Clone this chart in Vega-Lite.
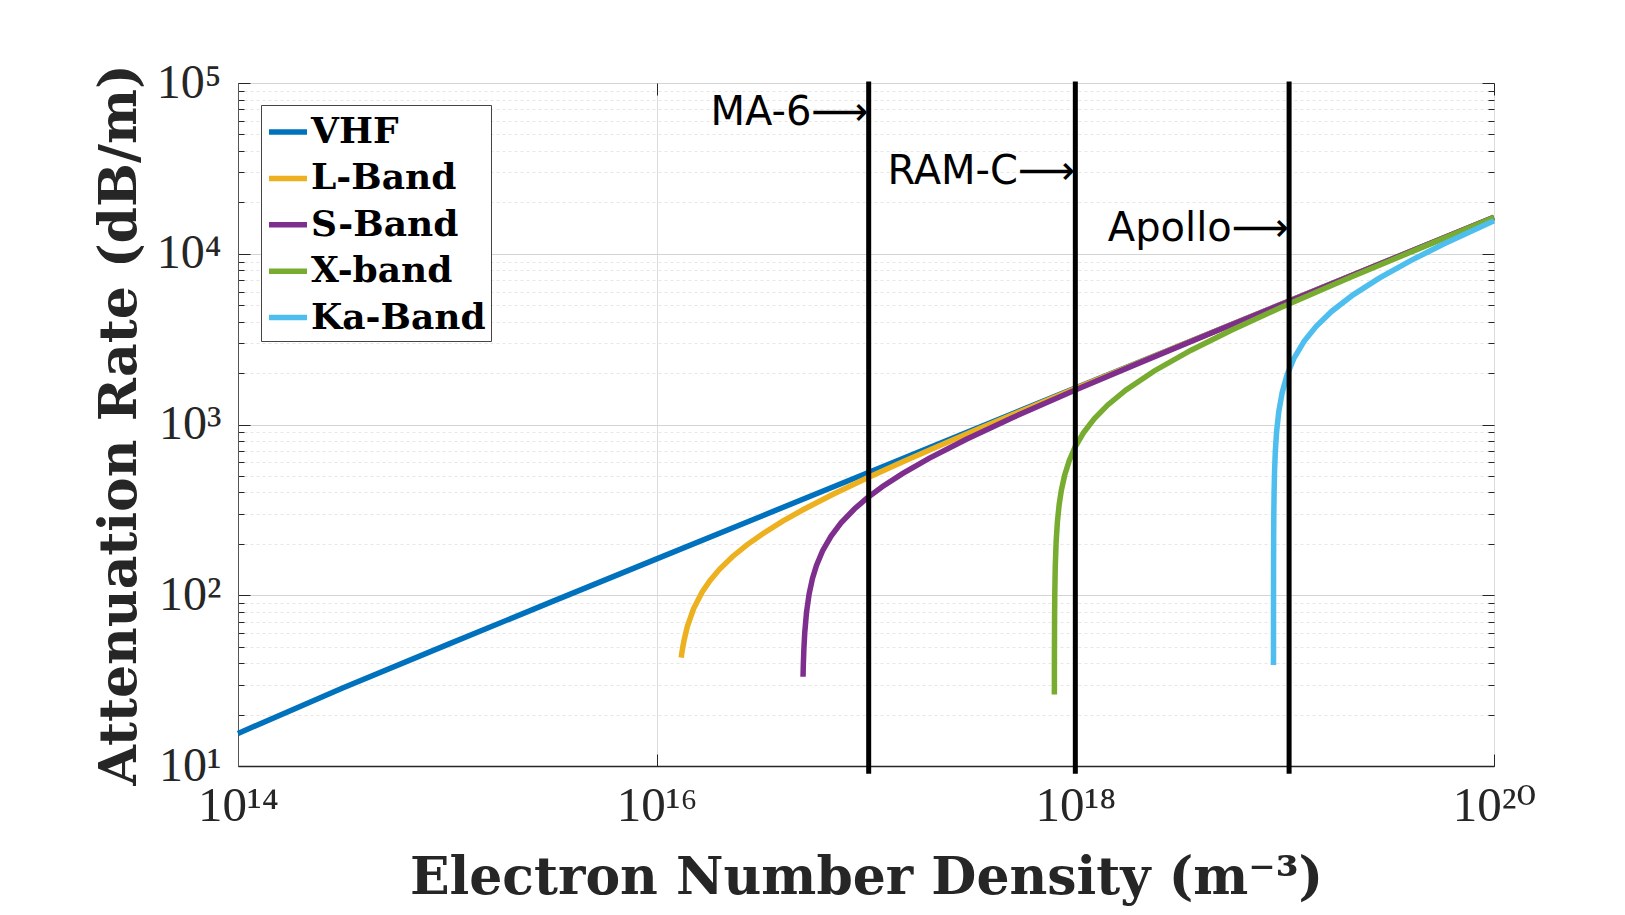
{
  "$schema": "https://vega.github.io/schema/vega-lite/v6.json",
  "width": 1256,
  "height": 683,
  "autosize": {"type": "none"},
  "padding": {"left": 238, "top": 83, "right": 131, "bottom": 149},
  "background": "white",
  "config": {"view": {"stroke": "#555555", "strokeWidth": 1}},
  "datasets": {
    "curves": [
      {"band": "VHF", "n": 1e14, "rate": 15.52},
      {"band": "VHF", "n": 3.162e14, "rate": 28.6},
      {"band": "VHF", "n": 1e15, "rate": 51.4},
      {"band": "VHF", "n": 3.162e15, "rate": 91.71},
      {"band": "VHF", "n": 1e16, "rate": 163.27},
      {"band": "VHF", "n": 3.162e16, "rate": 290.43},
      {"band": "VHF", "n": 1e17, "rate": 516.5},
      {"band": "VHF", "n": 3.162e17, "rate": 918.5},
      {"band": "VHF", "n": 1e18, "rate": 1633.5},
      {"band": "VHF", "n": 3.162e18, "rate": 2904.7},
      {"band": "VHF", "n": 1e19, "rate": 5165.4},
      {"band": "VHF", "n": 3.162e19, "rate": 9185.5},
      {"band": "VHF", "n": 1e20, "rate": 16334.6},

      {"band": "L-Band", "n": 1.31e16, "rate": 43.11},
      {"band": "L-Band", "n": 1.32e16, "rate": 46.1},
      {"band": "L-Band", "n": 1.33e16, "rate": 48.91},
      {"band": "L-Band", "n": 1.35e16, "rate": 54.09},
      {"band": "L-Band", "n": 1.4e16, "rate": 65.27},
      {"band": "L-Band", "n": 1.5e16, "rate": 83.24},
      {"band": "L-Band", "n": 1.65e16, "rate": 104.55},
      {"band": "L-Band", "n": 1.8e16, "rate": 122.2},
      {"band": "L-Band", "n": 2e16, "rate": 142.37},
      {"band": "L-Band", "n": 2.3e16, "rate": 168.15},
      {"band": "L-Band", "n": 2.7e16, "rate": 197.35},
      {"band": "L-Band", "n": 3.2e16, "rate": 228.66},
      {"band": "L-Band", "n": 4e16, "rate": 271.35},
      {"band": "L-Band", "n": 5e16, "rate": 316.72},
      {"band": "L-Band", "n": 7e16, "rate": 392.02},
      {"band": "L-Band", "n": 1e17, "rate": 483.45},
      {"band": "L-Band", "n": 1.5e17, "rate": 605.91},
      {"band": "L-Band", "n": 2.2e17, "rate": 744.25},
      {"band": "L-Band", "n": 3.2e17, "rate": 905.94},
      {"band": "L-Band", "n": 5e17, "rate": 1140.6},
      {"band": "L-Band", "n": 1e18, "rate": 1623.3},
      {"band": "L-Band", "n": 3e18, "rate": 2823.4},
      {"band": "L-Band", "n": 1e19, "rate": 5162.2},
      {"band": "L-Band", "n": 3e19, "rate": 8945.0},
      {"band": "L-Band", "n": 1e20, "rate": 16333.5},

      {"band": "S-Band", "n": 5.003e16, "rate": 33.34},
      {"band": "S-Band", "n": 5.01e16, "rate": 36.01},
      {"band": "S-Band", "n": 5.02e16, "rate": 39.54},
      {"band": "S-Band", "n": 5.05e16, "rate": 48.62},
      {"band": "S-Band", "n": 5.1e16, "rate": 60.81},
      {"band": "S-Band", "n": 5.2e16, "rate": 79.79},
      {"band": "S-Band", "n": 5.35e16, "rate": 101.83},
      {"band": "S-Band", "n": 5.55e16, "rate": 125.32},
      {"band": "S-Band", "n": 5.8e16, "rate": 149.59},
      {"band": "S-Band", "n": 6.2e16, "rate": 181.79},
      {"band": "S-Band", "n": 6.8e16, "rate": 221.49},
      {"band": "S-Band", "n": 7.6e16, "rate": 265.34},
      {"band": "S-Band", "n": 8.8e16, "rate": 320.04},
      {"band": "S-Band", "n": 1e17, "rate": 366.66},
      {"band": "S-Band", "n": 1.2e17, "rate": 433.36},
      {"band": "S-Band", "n": 1.5e17, "rate": 517.54},
      {"band": "S-Band", "n": 2e17, "rate": 633.45},
      {"band": "S-Band", "n": 3e17, "rate": 817.36},
      {"band": "S-Band", "n": 5e17, "rate": 1096.2},
      {"band": "S-Band", "n": 1e18, "rate": 1592.4},
      {"band": "S-Band", "n": 2e18, "rate": 2281.2},
      {"band": "S-Band", "n": 5e18, "rate": 3634.4},
      {"band": "S-Band", "n": 1e19, "rate": 5152.6},
      {"band": "S-Band", "n": 3e19, "rate": 8939.5},
      {"band": "S-Band", "n": 1e20, "rate": 16330.5},

      {"band": "X-band", "n": 7.9408e17, "rate": 26.2},
      {"band": "X-band", "n": 7.943e17, "rate": 35.65},
      {"band": "X-band", "n": 7.9462e17, "rate": 46.02},
      {"band": "X-band", "n": 7.9581e17, "rate": 72.77},
      {"band": "X-band", "n": 7.9779e17, "rate": 102.91},
      {"band": "X-band", "n": 8.0176e17, "rate": 145.54},
      {"band": "X-band", "n": 8.097e17, "rate": 205.82},
      {"band": "X-band", "n": 8.2161e17, "rate": 272.27},
      {"band": "X-band", "n": 8.3749e17, "rate": 341.31},
      {"band": "X-band", "n": 8.5733e17, "rate": 411.64},
      {"band": "X-band", "n": 8.8908e17, "rate": 504.15},
      {"band": "X-band", "n": 9.3671e17, "rate": 617.46},
      {"band": "X-band", "n": 1.00022e18, "rate": 742.09},
      {"band": "X-band", "n": 1.09548e18, "rate": 897.14},
      {"band": "X-band", "n": 1.23043e18, "rate": 1079.3},
      {"band": "X-band", "n": 1.42888e18, "rate": 1301.7},
      {"band": "X-band", "n": 1.74641e18, "rate": 1594.3},
      {"band": "X-band", "n": 2.38147e18, "rate": 2058.2},
      {"band": "X-band", "n": 3.57221e18, "rate": 2722.7},
      {"band": "X-band", "n": 5.55677e18, "rate": 3564.9},
      {"band": "X-band", "n": 9.52589e18, "rate": 4826.9},
      {"band": "X-band", "n": 2.06394e19, "rate": 7276.8},
      {"band": "X-band", "n": 4.84233e19, "rate": 11273.2},
      {"band": "X-band", "n": 1e20, "rate": 16269.5},

      {"band": "Ka-Band", "n": 8.8429e18, "rate": 39.0},
      {"band": "Ka-Band", "n": 8.84321e18, "rate": 48.57},
      {"band": "Ka-Band", "n": 8.8441e18, "rate": 68.69},
      {"band": "Ka-Band", "n": 8.84675e18, "rate": 108.61},
      {"band": "Ka-Band", "n": 8.85117e18, "rate": 153.6},
      {"band": "Ka-Band", "n": 8.86001e18, "rate": 217.22},
      {"band": "Ka-Band", "n": 8.8777e18, "rate": 307.2},
      {"band": "Ka-Band", "n": 8.90423e18, "rate": 406.39},
      {"band": "Ka-Band", "n": 8.94844e18, "rate": 532.09},
      {"band": "Ka-Band", "n": 9.01918e18, "rate": 686.92},
      {"band": "Ka-Band", "n": 9.15181e18, "rate": 908.71},
      {"band": "Ka-Band", "n": 9.37287e18, "rate": 1189.78},
      {"band": "Ka-Band", "n": 9.72656e18, "rate": 1536.0},
      {"band": "Ka-Band", "n": 1.02571e19, "rate": 1942.9},
      {"band": "Ka-Band", "n": 1.105291e19, "rate": 2428.63},
      {"band": "Ka-Band", "n": 1.237926e19, "rate": 3072.0},
      {"band": "Ka-Band", "n": 1.414773e19, "rate": 3762.45},
      {"band": "Ka-Band", "n": 1.680043e19, "rate": 4607.99},
      {"band": "Ka-Band", "n": 2.122159e19, "rate": 5747.19},
      {"band": "Ka-Band", "n": 2.829546e19, "rate": 7204.51},
      {"band": "Ka-Band", "n": 3.979049e19, "rate": 9087.09},
      {"band": "Ka-Band", "n": 5.747515e19, "rate": 11391.3},
      {"band": "Ka-Band", "n": 1e20, "rate": 15595.7}
    ],
    "missions": [
      {"mission": "MA-6", "n": 1.03e17, "label_rate": 66700, "label": "MA-6⟶"},
      {"mission": "RAM-C", "n": 1e18, "label_rate": 30100, "label": "RAM-C⟶"},
      {"mission": "Apollo", "n": 1.05e19, "label_rate": 14010, "label": "Apollo⟶"}
    ]
  },
  "layer": [
    {
      "data": {"name": "curves"},
      "mark": {"type": "line", "strokeWidth": 5.5, "strokeCap": "butt"},
      "encoding": {
        "x": {
          "field": "n", "type": "quantitative",
          "scale": {"type": "log", "domain": [1e14, 1e20], "nice": false},
          "axis": {
            "orient": "bottom",
            "values": [1e14, 1e16, 1e18, 1e20],
            "labelExpr": "datum.value < 1e15 ? '10¹⁴' : datum.value < 1e17 ? '10¹⁶' : datum.value < 1e19 ? '10¹⁸' : '10²⁰'",
            "labelFont": "Liberation Serif, DejaVu Serif", "labelFontSize": 49, "labelColor": "#262626",
            "labelPadding": 27, "labelFlush": false, "labelOverlap": false,
            "tickSize": -12, "tickColor": "#262626", "tickWidth": 1,
            "domain": true, "domainColor": "#262626", "domainWidth": 1.5,
            "grid": true, "gridColor": "#dcdcdc", "gridWidth": 1,
            "title": "Electron Number Density (m⁻³)",
            "titleFont": "DejaVu Serif", "titleFontWeight": "bold", "titleFontSize": 52, "titleColor": "#262626",
            "titleBaseline": "alphabetic", "titleY": 127
          }
        },
        "y": {
          "field": "rate", "type": "quantitative",
          "scale": {"type": "log", "domain": [10, 100000], "nice": false},
          "axis": {
            "orient": "left",
            "values": [10, 20, 30, 40, 50, 60, 70, 80, 90, 100, 200, 300, 400, 500, 600, 700, 800, 900, 1000, 2000, 3000, 4000, 5000, 6000, 7000, 8000, 9000, 10000, 20000, 30000, 40000, 50000, 60000, 70000, 80000, 90000, 100000],
            "labelExpr": "abs(log(datum.value)/LN10 - round(log(datum.value)/LN10)) > 0.01 ? '' : (datum.value < 50 ? '10¹' : datum.value < 500 ? '10²' : datum.value < 5000 ? '10³' : datum.value < 50000 ? '10⁴' : '10⁵')",
            "labelFont": "Liberation Serif, DejaVu Serif", "labelFontSize": 48, "labelColor": "#262626",
            "labelPadding": 29, "labelFlush": false, "labelOverlap": false,
            "tickSize": {"condition": {"test": "abs(log(datum.value)/LN10 - round(log(datum.value)/LN10)) < 0.01", "value": -12}, "value": -6},
            "tickColor": "#262626", "tickWidth": 1,
            "domain": true, "domainColor": "#555555", "domainWidth": 1,
            "grid": true,
            "gridColor": {"condition": {"test": "abs(log(datum.value)/LN10 - round(log(datum.value)/LN10)) < 0.01", "value": "#d4d4d4"}, "value": "#e6e6e6"},
            "gridDash": {"condition": {"test": "abs(log(datum.value)/LN10 - round(log(datum.value)/LN10)) < 0.01", "value": []}, "value": [3, 3]},
            "title": "Attenuation Rate (dB/m)",
            "titleFont": "DejaVu Serif", "titleFontWeight": "bold", "titleFontSize": 52, "titleColor": "#262626",
            "titleBaseline": "alphabetic", "titleX": -103
          }
        },
        "color": {
          "field": "band", "type": "nominal",
          "scale": {
            "domain": ["VHF", "L-Band", "S-Band", "X-band", "Ka-Band"],
            "range": ["#0072BD", "#EDB120", "#7E2F8E", "#77AC30", "#4DBEEE"]
          },
          "legend": {
            "orient": "none", "legendX": 23, "legendY": 22,
            "title": null,
            "symbolType": "stroke", "symbolSize": 1444, "symbolStrokeWidth": 5.5,
            "labelFont": "DejaVu Serif", "labelFontWeight": "bold", "labelFontSize": 36, "labelColor": "black",
            "labelLimit": 400, "labelOffset": 1,
            "strokeColor": "#444444", "fillColor": "white",
            "padding": 5, "rowPadding": 6.4
          }
        }
      }
    },
    {
      "data": {"name": "missions"},
      "mark": {"type": "rule", "color": "black", "strokeWidth": 5},
      "encoding": {
        "x": {
          "field": "n", "type": "quantitative",
          "scale": {"type": "log", "domain": [1e14, 1e20], "nice": false},
          "axis": {
            "orient": "top", "values": [1e14, 1e16, 1e18, 1e20],
            "labels": false, "tickSize": -12, "tickColor": "#262626",
            "domain": false, "grid": false, "title": null
          }
        },
        "y": {
          "datum": 9, "type": "quantitative",
          "scale": {"type": "log", "domain": [10, 100000], "nice": false},
          "axis": {
            "orient": "right",
            "values": [10, 20, 30, 40, 50, 60, 70, 80, 90, 100, 200, 300, 400, 500, 600, 700, 800, 900, 1000, 2000, 3000, 4000, 5000, 6000, 7000, 8000, 9000, 10000, 20000, 30000, 40000, 50000, 60000, 70000, 80000, 90000, 100000],
            "labels": false,
            "tickSize": {"condition": {"test": "abs(log(datum.value)/LN10 - round(log(datum.value)/LN10)) < 0.01", "value": -12}, "value": -6},
            "tickColor": "#262626",
            "domain": false, "grid": false, "title": null
          }
        },
        "y2": {"datum": 102000}
      }
    },
    {
      "data": {"name": "missions"},
      "mark": {"type": "text", "align": "right", "baseline": "middle", "font": "DejaVu Sans", "fontSize": 40, "color": "black", "dx": 0},
      "encoding": {
        "x": {"field": "n", "type": "quantitative", "scale": {"type": "log", "domain": [1e14, 1e20], "nice": false}, "axis": null},
        "y": {"field": "label_rate", "type": "quantitative", "scale": {"type": "log", "domain": [10, 100000], "nice": false}, "axis": null},
        "text": {"field": "label"}
      }
    }
  ],
  "resolve": {"axis": {"x": "independent", "y": "independent"}}
}
